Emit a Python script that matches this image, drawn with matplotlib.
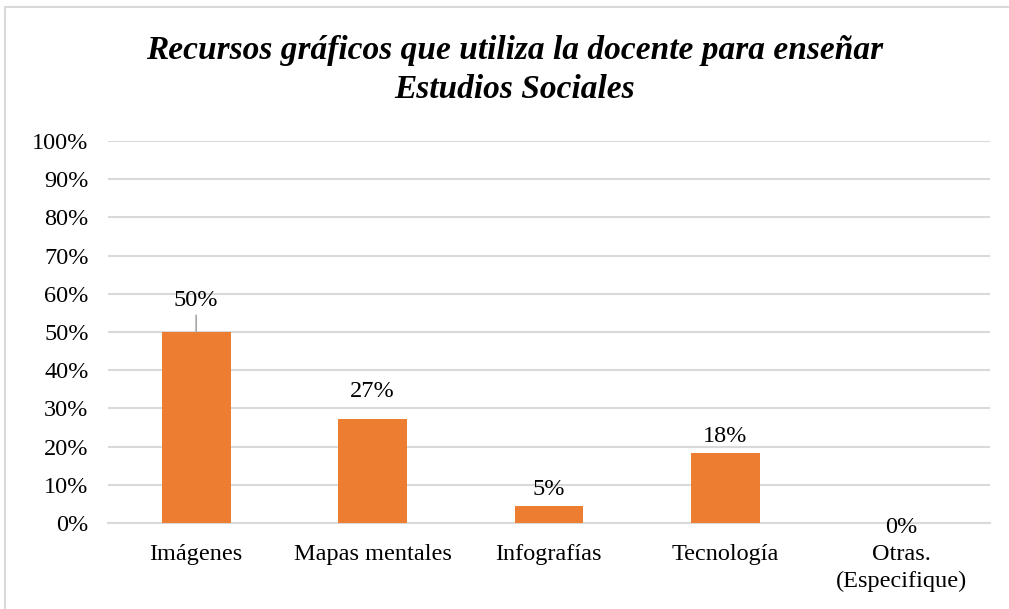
import matplotlib.pyplot as plt
from matplotlib.patches import Rectangle

plt.rcParams['font.family'] = ['Liberation Serif', 'DejaVu Serif']

categorias = ["Imágenes", "Mapas mentales", "Infografías", "Tecnología", "Otras.\n(Especifique)"]
valores = [0.50, 0.273, 0.045, 0.182, 0.0]
etiquetas = ["50%", "27%", "5%", "18%", "0%"]
titulo = "Recursos gráficos que utiliza la docente para enseñar\nEstudios Sociales"

# desplazamiento de cada etiqueta respecto a la barra (puntos)
offsets = [23, 19.5, 11.5, 12, -3.5]

fig = plt.figure(figsize=(10.09, 6.09), dpi=100)
ax = fig.add_axes([0.107, 0.1412, 0.874, 0.6273])

x = range(len(categorias))
ax.bar(x, valores, width=0.39, color='#ED7D31', zorder=3)

for i, (v, t) in enumerate(zip(valores, etiquetas)):
    ax.annotate(t, (i, v), xytext=(0, offsets[i]), textcoords='offset points',
                ha='center', va='center', fontsize=17.5, color='black', zorder=4)

# linea guia de la etiqueta de 50%
ax.annotate('', (0, valores[0]), xytext=(0, 12), textcoords='offset points',
            arrowprops=dict(arrowstyle='-', color='#A6A6A6', lw=1.2, shrinkA=0, shrinkB=0))

ax.set_ylim(0, 1.0)
ax.set_xlim(-0.5, len(categorias) - 0.5)
ax.set_yticks([i / 10 for i in range(11)])
ax.set_yticklabels([f"{i * 10}%" for i in range(11)])
ax.set_xticks(list(x))
ax.set_xticklabels(categorias, linespacing=1.35)
ax.tick_params(axis='y', length=0, pad=14, labelsize=17.5, colors='black')
ax.tick_params(axis='x', length=0, pad=15, labelsize=17.5, colors='black')
ax.yaxis.grid(True, color='#D9D9D9', lw=1.5, zorder=0)
ax.set_axisbelow(True)
for s in ['top', 'right', 'left']:
    ax.spines[s].set_visible(False)
ax.spines['bottom'].set_color('#D9D9D9')
ax.spines['bottom'].set_linewidth(1.5)

fig.text(0.51, 0.885, titulo, ha='center', va='center', fontsize=24,
         fontweight='bold', fontstyle='italic', linespacing=1.35)

# borde del area del grafico
fig.patches.append(Rectangle((5 / 1009, -0.1), 1.2, 1 - 7 / 609 + 0.1,
                             transform=fig.transFigure, fill=False,
                             edgecolor='#D9D9D9', lw=1.5))

fig.savefig("out.png", dpi=100)
